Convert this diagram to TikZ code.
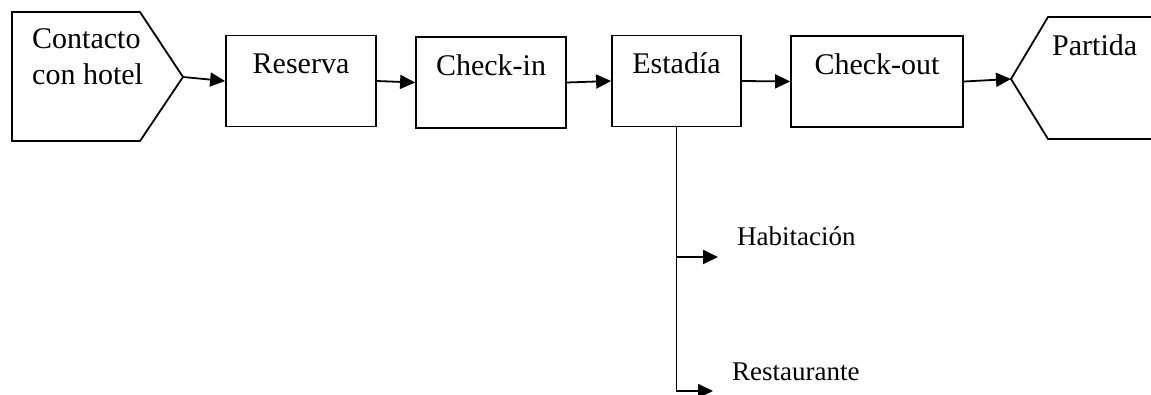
\documentclass[tikz,border=0pt]{standalone}
\usepackage{fontspec}
\setmainfont{Liberation Serif}
\usetikzlibrary{arrows.meta}
\tikzset{
  caja/.style={draw, line width=1.8pt, inner ysep=0pt, text height=38pt, text depth=53pt, minimum width=#1},
  flecha/.style={line width=1.8pt, -{Triangle[length=15pt,width=14pt]}},
  etiqueta/.style={anchor=base west, inner sep=0pt, font=\fontsize{27}{32}\selectfont}
}
\begin{document}
\begin{tikzpicture}[x=1pt, y=-1pt, font=\fontsize{30}{36}\selectfont]
                \useasboundingbox (0,0) rectangle (1151,394);
                \coordinate (contacto) at (183,77);
                \coordinate (partida) at (1011,79);
                \draw[line width=1.8pt] (12,12) -- (140,12) -- (contacto) -- (140,141) -- (12,141) -- cycle;
                \draw[line width=1.8pt] (1160,17) -- (1048,17) -- (partida) -- (1048,139) -- (1160,139);
                \node[anchor=north west, inner sep=0pt, align=left] (tcontacto) at (32,28) {Contacto\\con hotel};
                \node[anchor=base west, inner sep=0pt] (tpartida) at (1052,55) {Partida};
                \node[caja=150pt] (reserva) at (301,81) {Reserva};
                \node[caja=150pt] (checkin) at (491,82.5) {Check-in};
                \node[caja=129pt] (estadia) at (676.5,81) {Estadía};
                \node[caja=172pt] (checkout) at (877,81.5) {Check-out};
                \draw[flecha] (contacto) -- (reserva.west);
                \draw[flecha] (reserva.east) -- (checkin.west);
                \draw[flecha] (checkin.east) -- (estadia.west);
                \draw[flecha] (estadia.east) -- (checkout.west);
                \draw[flecha] (checkout.east) -- (partida);
                \coordinate (hab) at (718,257);
                \coordinate (rest) at (713,391);
                \draw[flecha] (estadia.south) |- (rest);
                \draw[flecha] (estadia.south |- hab) -- (hab);
                \node[etiqueta] (habitacion) at (737,245) {Habitación};
                \node[etiqueta] (restaurante) at (732,380) {Restaurante};
            \end{tikzpicture}
\end{document}
